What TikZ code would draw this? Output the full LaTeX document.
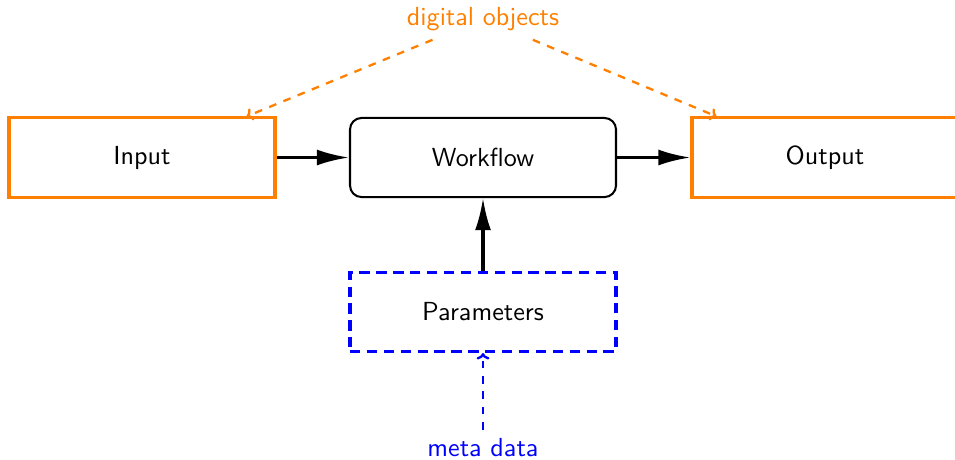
\documentclass[tikz,border=0pt]{standalone}
\usetikzlibrary{arrows.meta,calc}
\definecolor{objorange}{RGB}{255,128,0}
\definecolor{metablue}{RGB}{0,0,255}
\begin{document}
\begin{tikzpicture}[x=0.390625pt,y=-0.390625pt,
  font=\sffamily\fontsize{10.2pt}{12pt}\selectfont,
  box/.style={rectangle,minimum width=103.9pt,minimum height=30.9pt,inner sep=0pt},
  objbox/.style={box,draw=objorange,line width=1.2pt},
  flowbox/.style={box,draw=black,line width=0.8pt,rounded corners=4.5pt},
  parbox/.style={box,draw=metablue,line width=1.2pt,dash pattern=on 4pt off 2.6pt},
  flow/.style={line width=1.2pt,-{Latex[length=12.5pt,width=6.2pt]}},
  objlink/.style={objorange,line width=0.9pt,dashed,-{To[length=2.5pt,width=5pt]}},
  metalink/.style={metablue,line width=0.9pt,dashed,-{To[length=2.5pt,width=5pt]}}]
\clip (0,0) rectangle (955,459);
\useasboundingbox (0,0) rectangle (955,459);

\node[objbox]  (in)   at (142,157.5) {Input};
\node[flowbox] (wf)   at (483,157.5) {Workflow};
\node[objbox]  (out)  at (825,157.5) {Output};
\node[parbox]  (par)  at (483,312)   {Parameters};

\node[text=objorange] (dig)  at (483,19)  {digital objects};
\node[text=metablue]  (meta) at (483,448) {meta data};

\coordinate (inhook)  at ($(in.north east)+(-30,0)$);
\coordinate (outhook) at ($(out.north west)+(26,0)$);

\draw[flow] (in) -- (wf);
\draw[flow] (wf) -- (out);
\draw[flow] (par) -- (wf);

\draw[objlink] (dig) -- (inhook);
\draw[objlink] (dig) -- (outhook);
\draw[metalink] (meta) -- (par);
\end{tikzpicture}
\end{document}
